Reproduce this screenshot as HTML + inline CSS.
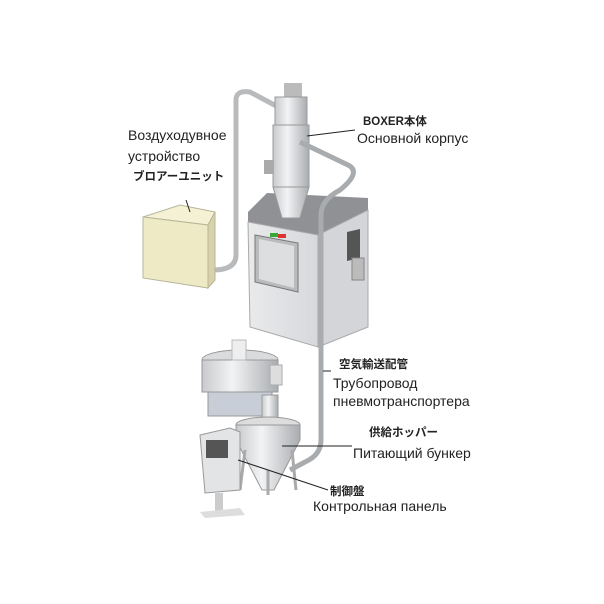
<!DOCTYPE html>
<html><head><meta charset="utf-8"><style>
body{margin:0;background:#fff}
svg{display:block}
text{font-family:"Liberation Sans","Noto Sans CJK JP",sans-serif;fill:#222}
.r{font-size:14px}
.j{font-size:11.5px;font-weight:bold}
</style></head><body>
<svg width="604" height="604" viewBox="0 0 604 604">
<defs>
<linearGradient id="m" x1="0" x2="1"><stop offset="0" stop-color="#c8cacd"/><stop offset=".4" stop-color="#f2f3f4"/><stop offset="1" stop-color="#a9acb0"/></linearGradient>
<linearGradient id="f" x1="0" x2="1"><stop offset="0" stop-color="#e9eaec"/><stop offset="1" stop-color="#d6d8db"/></linearGradient>
</defs>
<!-- pipes -->
<path d="M213,270 Q236,270 236,255 L236,100 Q236,90 250,92 L280,108" fill="none" stroke="#b8babc" stroke-width="5"/>
<!-- blower -->
<polygon points="143,217 180,205 215,212 208,225" fill="#f5f1d4" stroke="#b8b49a"/>
<polygon points="143,217 208,225 208,288 143,278" fill="#eeeac6" stroke="#b8b49a"/>
<polygon points="208,225 215,212 215,280 208,288" fill="#d8d2a8" stroke="#b8b49a"/>
<!-- main machine -->
<polygon points="248,212 267,193 368,198 368,210 318,235 248,222" fill="#8f9194"/>
<polygon points="248,222 318,235 318,347 250,327" fill="url(#f)" stroke="#aaa"/>
<polygon points="318,235 368,210 368,327 318,347" fill="#d3d5d8" stroke="#aaa"/>
<polygon points="255,235 298,243 298,292 255,282" fill="#b9bbbd" stroke="#777"/>
<polygon points="259,239 294,246 294,288 259,279" fill="#dcdedf"/>
<rect x="270" y="233" width="8" height="4" fill="#3a3"/><rect x="278" y="234" width="8" height="4" fill="#d33"/>
<polygon points="347,232 360,229 360,258 347,261" fill="#555"/>
<rect x="352" y="258" width="12" height="22" fill="#bbb" stroke="#888"/>
<!-- column -->
<rect x="284" y="83" width="18" height="14" fill="#bbb"/>
<rect x="275" y="97" width="32" height="28" fill="url(#m)" stroke="#999"/>
<rect x="273" y="125" width="36" height="62" fill="url(#m)" stroke="#999"/>
<polygon points="273,187 309,187 300,218 282,218" fill="url(#m)" stroke="#999"/>
<rect x="264" y="160" width="10" height="14" fill="#aaa"/>
<!-- pipe 2 (in front) -->
<path d="M300,142 L348,165 Q362,172 340,190 Q321,200 321,215 L321,440 Q321,455 305,462 L290,470" fill="none" stroke="#a9acaf" stroke-width="5"/>
<!-- sieve -->
<ellipse cx="240" cy="360" rx="38" ry="10" fill="#d9dbdd" stroke="#999"/>
<rect x="202" y="360" width="76" height="32" fill="url(#m)" stroke="#999"/>
<rect x="208" y="392" width="64" height="24" fill="#c7ced8" stroke="#999"/>
<rect x="232" y="340" width="14" height="20" fill="#eee" stroke="#bbb"/>
<rect x="270" y="365" width="12" height="20" fill="#ddd" stroke="#aaa"/>
<!-- hopper -->
<rect x="262" y="395" width="16" height="28" fill="url(#m)" stroke="#999"/>
<ellipse cx="268" cy="425" rx="32" ry="8" fill="#ddd" stroke="#999"/>
<polygon points="236,425 300,425 300,440 274,490 262,490 236,440" fill="url(#m)" stroke="#999"/>
<path d="M245,450 L240,490 M292,450 L296,490 M268,470 L268,495" stroke="#aaa" stroke-width="3"/>
<!-- control panel -->
<polygon points="200,435 230,428 240,432 240,490 205,493" fill="#e3e4e6" stroke="#999"/>
<rect x="206" y="440" width="22" height="18" fill="#555"/>
<rect x="215" y="493" width="8" height="20" fill="#ccc"/>
<polygon points="200,512 240,508 245,515 205,518" fill="#ddd"/>
<!-- leader lines -->
<g stroke="#222" stroke-width="1">
<line x1="186" y1="200" x2="190" y2="212"/>
<line x1="307" y1="136" x2="355" y2="130"/>
<line x1="323" y1="371" x2="331" y2="371"/>
<line x1="282" y1="446" x2="352" y2="446"/>
<line x1="238" y1="460" x2="328" y2="490"/>
</g>
<text class="r" x="128" y="140">Воздуходувное</text>
<text class="r" x="128" y="161">устройство</text>
<text class="j" x="133" y="180">ブロアーユニット</text>
<text class="j" x="363" y="125">BOXER本体</text>
<text class="r" x="357" y="143">Основной корпус</text>
<text class="j" x="339" y="368">空気輸送配管</text>
<text class="r" x="333" y="388">Трубопровод</text>
<text class="r" x="333" y="406">пневмотранспортера</text>
<text class="j" x="369" y="436">供給ホッパー</text>
<text class="r" x="353" y="458">Питающий бункер</text>
<text class="j" x="330" y="495">制御盤</text>
<text class="r" x="313" y="511">Контрольная панель</text>
</svg>
</body></html>
